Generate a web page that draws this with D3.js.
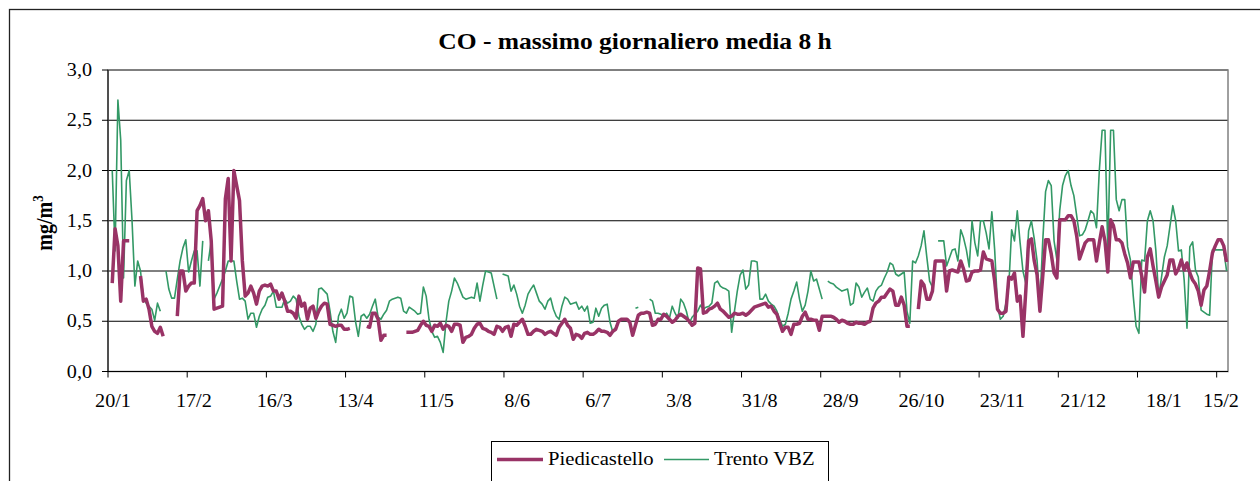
<!DOCTYPE html>
<html>
<head>
<meta charset="utf-8">
<script src="https://cdn.jsdelivr.net/npm/d3@7"></script>
<style>
  html, body { margin: 0; padding: 0; background: #fff; }
  svg { display: block; }
</style>
</head>
<body>
<svg id="chart" width="1260" height="481" font-family="'Liberation Serif', 'Times New Roman', serif"></svg>
<script>
const title = 'CO - massimo giornaliero media 8 h'
const seriesNames = ['Piedicastello', 'Trento VBZ']
// one label every 28 days, first day = 20/1
const tickLabels = ['20/1', '17/2', '16/3', '13/4', '11/5', '8/6', '6/7', '3/8', '31/8', '28/9', '26/10', '23/11', '21/12', '18/1', '15/2']
const yTicks = [0, 0.5, 1, 1.5, 2, 2.5, 3]

// daily values, mg/m3 (null = missing day)
const piedicastello = [
  null, 0.88, 1.42, 1.25, 0.7, 1.3, 1.3, 1.3, null, null,
  null, 0.95, 0.70, 0.72, 0.62, 0.45, 0.40, 0.38, 0.44, 0.35,
  null, null, null, null, 0.55, 1.0, 1.0, 0.8, 0.85, 0.88,
  0.88, 1.6, 1.65, 1.72, 1.5, 1.6, 1.3, 0.62, 0.63, 0.64,
  0.65, 1.72, 1.92, 1.1, 2.0, 1.85, 1.7, 1.1, 0.75, 0.78,
  0.85, 0.78, 0.67, 0.8, 0.85, 0.86, 0.85, 0.87, 0.8, 0.8,
  0.72, 0.78, 0.7, 0.6, 0.60, 0.58, 0.53, 0.75, 0.65, 0.68,
  0.52, 0.63, 0.65, 0.53, 0.60, 0.65, 0.68, 0.67, 0.47, 0.46,
  0.45, 0.46, 0.46, 0.42, 0.42, 0.43, null, null, null, null,
  null, 0.45, 0.44, 0.58, 0.58, 0.52, 0.31, 0.36, 0.36, null,
  null, null, null, null, null, 0.39, 0.39, 0.39, 0.40, 0.41,
  0.46, 0.50, 0.46, 0.45, 0.40, 0.46, 0.45, 0.48, 0.42, 0.46,
  0.45, 0.40, 0.47, 0.47, 0.46, 0.29, 0.34, 0.35, 0.37, 0.43,
  0.47, 0.48, 0.43, 0.42, 0.40, 0.39, 0.37, 0.45, 0.44, 0.40,
  0.44, 0.45, 0.35, 0.47, 0.46, 0.49, 0.52, 0.45, 0.37, 0.37,
  0.40, 0.42, 0.41, 0.40, 0.37, 0.39, 0.40, 0.38, 0.36, 0.44,
  0.48, 0.52, 0.46, 0.43, 0.32, 0.37, 0.36, 0.33, 0.38, 0.39,
  0.37, 0.37, 0.39, 0.42, 0.40, 0.40, 0.39, 0.36, 0.40, 0.42,
  0.50, 0.52, 0.52, 0.52, 0.49, 0.36, 0.46, 0.56, 0.58, 0.58,
  0.59, 0.58, 0.46, 0.47, 0.52, 0.52, 0.57, 0.55, 0.52, 0.49,
  0.51, 0.55, 0.57, 0.55, 0.53, 0.50, 0.46, 0.48, 1.03, 1.02,
  0.58, 0.59, 0.62, 0.63, 0.65, 0.68, 0.62, 0.60, 0.57, 0.54,
  0.55, 0.58, 0.57, 0.57, 0.58, 0.56, 0.58, 0.61, 0.64, 0.65,
  0.66, 0.67, 0.68, 0.64, 0.65, 0.60, 0.57, 0.48, 0.40, 0.44,
  0.44, 0.37, 0.47, 0.47, 0.48, 0.55, 0.59, 0.52, 0.52, 0.51,
  0.51, 0.41, 0.55, 0.55, 0.55, 0.55, 0.54, 0.52, 0.49, 0.51,
  0.50, 0.48, 0.47, 0.47, 0.49, 0.48, 0.48, 0.47, 0.49, 0.50,
  0.63, 0.68, 0.70, 0.74, 0.74, 0.78, 0.82, 0.80, 0.66, 0.66,
  0.74, 0.66, 0.45, 0.45, null, null, 0.62, 0.90, 0.86, 0.72,
  0.72, 0.80, 1.10, 1.10, 1.10, 1.10, 0.80, 1.00, 1.01, 1.00,
  0.99, 1.10, 1.02, 0.90, 0.91, 0.99, 1.00, 1.00, 1.01, 1.19,
  1.12, 1.11, 1.10, 0.90, 0.62, 0.58, 0.58, 0.60, 0.94, 0.92,
  0.98, 0.70, 0.75, 0.35, 0.80, 1.30, 1.32, 1.10, 0.96, 0.60,
  0.95, 1.31, 1.31, 1.17, 0.98, 0.93, 1.51, 1.51, 1.51, 1.55,
  1.55, 1.50, 1.35, 1.12, 1.20, 1.28, 1.31, 1.31, 1.31, 1.10,
  1.28, 1.44, 1.30, 0.99, 1.51, 1.45, 1.31, 1.31, 1.28, 1.17,
  1.08, 0.93, 1.09, 1.09, 1.09, 0.95, 0.79, 1.14, 1.22, 1.05,
  0.90, 0.74, 0.84, 0.90, 0.96, 1.11, 1.11, 0.97, 1.02, 1.11,
  1.01, 1.08, 0.98, 0.91, 0.87, 0.80, 0.66, 0.81, 0.85, 1.00,
  1.18, 1.25, 1.31, 1.31, 1.25, 1.09
]

const trentoVBZ = [
  null, 2.0, 1.2, 2.7, 2.3, 0.93, 1.9, 2.0, 1.5, 0.85,
  1.1, 1.0, 0.72, 0.68, 0.65, 0.62, 0.51, 0.68, 0.6, null,
  1.0, 0.82, 0.73, 0.73, 0.92, 1.1, 1.23, 1.31, 0.99, 1.1,
  1.2, 1.2, 0.85, 1.3, null, 1.1, 1.3, 0.72, 0.78, 0.85,
  0.92, 1.0, 1.1, 1.1, 1.1, 0.9, 0.72, 0.73, 0.70, 0.52,
  0.58, 0.58, 0.44, 0.55, 0.62, 0.66, 0.74, 0.75, 0.8, 0.64,
  0.64, 0.64, 0.72, 0.68, 0.70, 0.75, 0.72, 0.55, 0.47, 0.42,
  0.45, 0.45, 0.40, 0.47, 0.82, 0.83, 0.80, 0.77, 0.60, 0.40,
  0.29, 0.55, 0.62, 0.53, 0.58, 0.75, 0.74, 0.50, 0.35, 0.55,
  0.57, 0.53, 0.57, 0.65, 0.72, 0.54, 0.52, 0.57, 0.61, 0.70,
  0.72, 0.73, 0.74, 0.73, 0.60, 0.58, 0.64, 0.62, 0.60, 0.57,
  0.58, 0.84, 0.75, 0.52, 0.40, 0.34, 0.35, 0.29, 0.19, 0.49,
  0.70, 0.80, 0.93, 0.88, 0.81, 0.74, 0.72, 0.73, 0.74, 0.73,
  0.88, 0.70, 0.86, 1.00, 0.99, 0.98, 0.85, 0.72, null, 0.97,
  0.96, 0.95, 0.80, 0.86, 0.77, 0.65, 0.58, 0.66, 0.77, 0.82,
  0.86, 0.78, 0.70, 0.67, 0.62, 0.70, 0.73, 0.62, 0.55, 0.52,
  0.65, 0.74, 0.72, 0.67, 0.68, 0.69, 0.62, 0.65, 0.60, 0.65,
  0.48, 0.49, 0.63, 0.55, 0.63, 0.66, 0.67, 0.49, 0.39, 0.44,
  0.50, 0.52, 0.52, 0.52, 0.50, null, 0.63, 0.64, null, null,
  null, 0.72, 0.70, 0.58, 0.58, 0.57, 0.55, 0.58, 0.53, 0.65,
  0.58, 0.53, 0.72, 0.68, 0.60, 0.48, 0.54, 0.57, 0.60, 0.66,
  0.62, 0.64, 0.65, 0.68, 0.88, 0.90, 0.85, 0.83, 0.82, 0.80,
  0.39, 0.60, 0.80, 0.96, 1.01, 0.82, 0.86, 1.10, 1.10, 1.09,
  0.72, 0.72, 0.77, 0.70, 0.67, 0.65, 0.60, 0.52, 0.45, 0.47,
  0.58, 0.72, 0.80, 0.89, 0.72, 0.60, 0.66, 0.80, 1.00, 0.90,
  0.92, 0.82, 0.72, null, 0.90, 0.88, 0.87, 0.84, 0.82, 0.80,
  0.81, 0.82, 0.66, 0.68, 0.88, 0.84, 0.74, 0.79, 0.83, 0.72,
  0.70, 0.80, 0.84, 0.86, 0.93, 0.99, 1.08, 1.06, 0.97, 0.95,
  0.97, 0.99, 0.60, 0.48, 1.10, 1.08, 1.15, 1.25, 1.40, 1.14,
  0.90, 0.84, null, 1.30, 1.30, 1.30, 1.05, 1.13, 1.21, 1.22,
  1.10, 1.41, 1.33, 1.21, 1.04, 1.50, 1.28, 1.15, 1.50, 1.50,
  1.38, 1.22, 1.59, 1.21, 0.66, 0.52, 0.55, 0.68, 0.85, 1.41,
  1.30, 1.60, 1.28, 1.00, 0.88, 1.40, 1.50, 1.32, 1.10, 0.68,
  1.30, 1.79, 1.90, 1.85, 1.30, 1.11, 1.60, 1.85, 1.95, 2.00,
  1.85, 1.75, 1.55, 1.35, 1.36, 1.41, 1.50, 1.60, 1.57, 1.43,
  2.00, 2.40, 2.40, 1.21, 2.40, 2.40, 1.71, 1.60, 1.71, 1.71,
  1.24, 1.11, 0.75, 0.45, 0.38, 1.11, 1.10, 1.50, 1.60, 1.50,
  1.20, 0.74, 0.94, 1.14, 1.25, 1.45, 1.65, 1.50, 1.20, 1.21,
  0.91, 0.43, 1.24, 1.29, 1.01, 0.94, 0.61, 0.59, 0.57, 0.56,
  1.21, 1.21, 1.21, 1.21, 1.21, 1.00
]

const conf = {
  plotLeft: 108,
  plotRight: 1228,
  plotTop: 70,
  plotBottom: 371.5,
  // days between x tick marks
  tickEvery: 28,
  // exported picture has slightly wide glyphs
  textStretch: 1.12,
  fontSize: 18,
  colors: ['#993366', '#339966'],
  widths: [3.5, 1.6]
}

const svg = d3.select('#chart')
const days = d3.range(piedicastello.length)

const x = d3.scaleBand()
  .domain(days)
  .range([conf.plotLeft, conf.plotRight])
  .paddingInner(0)
  .paddingOuter(0)

const y = d3.scaleLinear()
  .domain([0, 3])
  .range([conf.plotBottom, conf.plotTop])

// label centres drift a little against the tick marks in the original
const labelX = d3.scaleLinear()
  .domain([0, 364])
  .range([113, 1164])

const comma = v => d3.format('.1f')(v).replace('.', ',')

function stretchedText (parent, px, py, str, anchor, stretch = conf.textStretch) {
  return parent.append('g')
    .attr('transform', `translate(${px},${py}) scale(${stretch},1)`)
    .append('text')
    .attr('text-anchor', anchor)
    .text(str)
}

// outer chart frame (runs off the picture at right and bottom)
svg.append('rect')
  .attr('x', 9.5)
  .attr('y', 9.5)
  .attr('width', 1262)
  .attr('height', 482)
  .attr('fill', 'none')
  .attr('stroke', '#222')
  .attr('stroke-width', 1.3)

// title
stretchedText(svg, 635, 48.5, title, 'middle', 1.11)
  .attr('font-size', 23)
  .attr('font-weight', 'bold')

// gridlines
svg.append('g')
  .selectAll('line')
  .data(yTicks.slice(1))
  .join('line')
  .attr('x1', conf.plotLeft)
  .attr('x2', conf.plotRight)
  .attr('y1', d => y(d))
  .attr('y2', d => y(d))
  .attr('stroke', '#000')
  .attr('stroke-width', 1)

// plot area border
svg.append('rect')
  .attr('x', conf.plotLeft)
  .attr('y', conf.plotTop)
  .attr('width', conf.plotRight - conf.plotLeft)
  .attr('height', conf.plotBottom - conf.plotTop)
  .attr('fill', 'none')
  .attr('stroke', '#808080')
  .attr('stroke-width', 1.5)

// series
const line = d3.line()
  .defined(d => d != null)
  .x((d, i) => x(i) + x.bandwidth() / 2)
  .y(d => y(d))

const series = [piedicastello, trentoVBZ]
// green drawn first so the thick maroon sits on top where they cross
;[1, 0].forEach(k => {
  svg.append('path')
    .datum(series[k])
    .attr('d', line)
    .attr('fill', 'none')
    .attr('stroke', conf.colors[k])
    .attr('stroke-width', conf.widths[k])
    .attr('stroke-linejoin', 'round')
})

// axes
const axes = svg.append('g').attr('stroke', '#000').attr('stroke-width', 1)
axes.append('line')
  .attr('x1', conf.plotLeft).attr('x2', conf.plotLeft)
  .attr('y1', conf.plotTop).attr('y2', conf.plotBottom)
axes.append('line')
  .attr('x1', conf.plotLeft).attr('x2', conf.plotRight)
  .attr('y1', conf.plotBottom).attr('y2', conf.plotBottom)

axes.selectAll('.ytick')
  .data(yTicks)
  .join('line')
  .attr('class', 'ytick')
  .attr('x1', conf.plotLeft - 6).attr('x2', conf.plotLeft)
  .attr('y1', d => y(d)).attr('y2', d => y(d))

const tickDays = tickLabels.map((t, k) => k * conf.tickEvery)
axes.selectAll('.xtick')
  .data(tickDays)
  .join('line')
  .attr('class', 'xtick')
  .attr('x1', d => x(d)).attr('x2', d => x(d))
  .attr('y1', conf.plotBottom).attr('y2', conf.plotBottom + 6)

// y tick labels
const yLabels = svg.append('g').attr('font-size', conf.fontSize)
yTicks.forEach(v => {
  stretchedText(yLabels, 92, y(v) + 6, comma(v), 'end')
})

// x tick labels
const xLabels = svg.append('g').attr('font-size', conf.fontSize)
tickDays.forEach((d, k) => {
  const cx = Math.min(labelX(d), conf.plotRight - 7)
  stretchedText(xLabels, cx, 407, tickLabels[k], 'middle')
})

// y axis title
const yTitle = svg.append('g')
  .attr('transform', `translate(52,223) scale(${conf.textStretch},1) rotate(-90)`)
  .append('text')
  .attr('text-anchor', 'middle')
  .attr('font-size', 20)
  .attr('font-weight', 'bold')
yTitle.append('tspan').text('mg/m')
yTitle.append('tspan').attr('font-size', 13).attr('dy', -8).text('3')

// legend
const legend = svg.append('g')
legend.append('rect')
  .attr('x', 491.5)
  .attr('y', 441.5)
  .attr('width', 337)
  .attr('height', 45)
  .attr('fill', '#fff')
  .attr('stroke', '#000')
  .attr('stroke-width', 1)

const legendItems = [
  { x1: 497, x2: 543, tx: 548 },
  { x1: 664, x2: 709, tx: 714 }
]
legendItems.forEach((item, k) => {
  legend.append('line')
    .attr('x1', item.x1).attr('x2', item.x2)
    .attr('y1', 459.5).attr('y2', 459.5)
    .attr('stroke', conf.colors[k])
    .attr('stroke-width', conf.widths[k])
  stretchedText(legend, item.tx, 465, seriesNames[k], 'start', 1.15)
    .attr('font-size', conf.fontSize)
})
</script>
</body>
</html>
